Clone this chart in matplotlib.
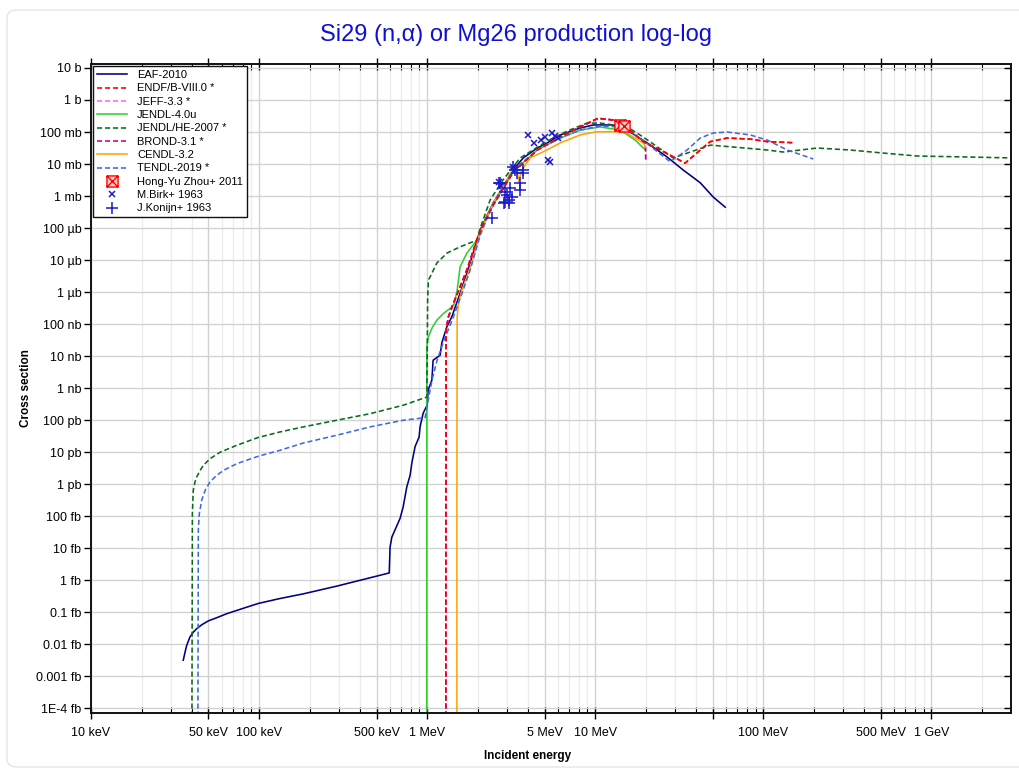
import matplotlib
matplotlib.use("Agg")
import matplotlib.pyplot as plt
from matplotlib.path import Path
from matplotlib.patches import FancyBboxPatch
from matplotlib.ticker import FixedLocator, FixedFormatter, NullLocator

plt.rcParams['font.family'] = ['Liberation Sans', 'DejaVu Sans']

# ---------------- data (E in MeV, cross section in barns) ----------------
eaf_E = [0.0354, 0.0363, 0.0371, 0.0388, 0.0406, 0.0426, 0.0456, 0.0499, 0.056, 0.0643, 0.0737,
         0.099, 0.133, 0.184, 0.29, 0.595, 0.602, 0.617,
         0.691, 0.72, 0.757, 0.792, 0.811, 0.848, 0.896, 0.908, 0.947, 1.0, 1.014, 1.067, 1.086,
         1.195, 1.223, 1.31, 1.403, 1.572, 1.723, 1.878, 2.068, 2.47, 2.83, 3.25, 3.73, 4.52,
         5.18, 6.19, 8.14, 9.73, 12.8, 15.5, 20.4, 26.8, 33.4, 42.2, 50.4, 59.4]
eaf_S = [3.2e-18, 5.8e-18, 9.3e-18, 1.7e-17, 2.4e-17, 3.1e-17, 4.1e-17, 5.4e-17, 6.8e-17, 9.1e-17,
         1.15e-16, 1.9e-16, 2.7e-16, 3.8e-16, 6.6e-16, 1.7e-15,
         1.1e-14, 2.25e-14, 8.7e-14, 1.95e-13, 8.3e-13, 1.9e-12, 4.6e-12, 1.5e-11, 3.0e-11,
         6.2e-11, 1.65e-10, 2.95e-10, 8.7e-10, 1.8e-9, 7.5e-9, 1.07e-8, 2.6e-8, 8.3e-8, 1.7e-7,
         9.3e-7, 3.9e-6, 1.65e-5, 8.7e-5, 6.0e-4, 1.9e-3, 6.5e-3, 0.0155, 0.0316, 0.0455, 0.081,
         0.133, 0.166, 0.166, 0.115, 0.0455, 0.0166, 6.5e-3, 2.6e-3, 9.3e-4, 4.5e-4]

endf_E = [1.292, 1.293, 1.297, 1.339, 1.434, 1.572, 1.723, 1.976, 2.15, 2.47, 3.25, 4.52, 6.19,
          8.14, 10.4, 12.8, 14.7, 16.8, 19.3, 24.4, 34.3, 42.2, 48.4, 61.0, 83.7, 105.6, 150.9]
endf_S = [1e-21, 3.2e-13, 6.5e-8, 1.7e-7, 4.5e-7, 1.47e-6, 4.9e-6, 4.2e-5, 1.25e-4, 5.2e-4,
          5.6e-3, 0.0274, 0.07, 0.144, 0.268, 0.237, 0.166, 0.093, 0.05, 0.0274, 0.0107, 0.0274,
          0.05, 0.065, 0.06, 0.05, 0.0464]

jeff_E = [1.292, 1.293, 1.297, 1.339, 1.434, 1.572, 1.723, 1.976, 2.15, 2.47, 3.25, 4.52, 6.19,
          8.14, 10.4, 12.8, 14.7, 16.8, 19.3, 19.9, 20.0]
jeff_S = [1e-21, 3.2e-13, 6.5e-8, 1.7e-7, 4.5e-7, 1.47e-6, 4.9e-6, 4.2e-5, 1.25e-4, 5.2e-4,
          5.6e-3, 0.0274, 0.07, 0.144, 0.268, 0.237, 0.166, 0.093, 0.05, 0.045, 0.0133]

brond_E = jeff_E
brond_S = jeff_S

jendl4_E = [0.9945, 0.9959, 1.018, 1.067, 1.142, 1.25, 1.37, 1.448, 1.509, 1.572, 1.723, 1.976,
            2.15, 2.47, 3.25, 4.52, 6.19, 8.14, 10.7, 14.1, 17.3, 19.9]
jendl4_S = [1e-21, 1.95e-8, 4.0e-8, 7.4e-8, 1.33e-7, 2.15e-7, 3.1e-7, 4.2e-7, 1.15e-6, 6.2e-6,
            1.65e-5, 4.2e-5, 1.25e-4, 5.2e-4, 5.6e-3, 0.0274, 0.065, 0.115, 0.144, 0.115, 0.056,
            0.0274]

jendlhe_E = [0.0398, 0.0401, 0.0406, 0.0416, 0.0426, 0.0446, 0.0466, 0.0511, 0.0586, 0.0737,
             0.099, 0.133, 0.184, 0.29, 0.458, 0.723, 0.996, 1.007,
             1.018, 1.042, 1.142, 1.31, 1.572, 1.976, 2.07, 2.37, 2.83, 3.58, 5.18, 6.81, 8.96,
             10.7, 15.5, 19.3, 29.1, 48.4, 66.3, 105.6, 131.6, 209.6, 329.6, 517.9, 825.4,
             1638.0, 3035.0]
jendlhe_S = [1e-21, 1.2e-13, 6.5e-13, 1.2e-12, 1.7e-12, 2.7e-12, 3.9e-12, 6.3e-12, 1.0e-11,
             1.65e-11, 2.9e-11, 4.3e-11, 6.2e-11, 1.0e-10, 1.6e-10, 2.95e-10, 5.3e-10, 5.6e-7,
             2.4e-6, 3.0e-6, 8.1e-6, 1.65e-5, 2.6e-5, 4.2e-5, 1e-4, 7.5e-4,
             3.2e-3, 0.0155, 0.052, 0.107, 0.19, 0.19, 0.144, 0.07, 0.0155, 0.039, 0.034, 0.0274,
             0.0237, 0.0316, 0.0274, 0.022, 0.0178, 0.0166, 0.0155]

cendl_E = [1.503, 1.504, 1.509, 1.536, 1.609, 1.803, 2.07, 2.47, 2.91, 3.21, 3.42, 3.50, 3.66,
           4.10, 5.16, 6.19, 8.14, 10.2, 14.1, 15.4, 19.3, 19.9]
cendl_S = [1e-21, 3.2e-13, 1.7e-7, 4.5e-7, 1.15e-6, 5.6e-6, 6.9e-5, 6.0e-4, 2.6e-3, 6.5e-3,
           8.3e-3, 2.8e-3, 6.5e-3, 0.0155, 0.0274, 0.0455, 0.081, 0.102, 0.102, 0.093, 0.0455,
           0.034]

tendl_E = [0.0432, 0.0435, 0.0441, 0.0456, 0.0478, 0.0511, 0.056, 0.0613, 0.0737, 0.099, 0.133,
           0.184, 0.29, 0.458, 0.723, 0.973, 1.014,
           1.07, 1.147, 1.262, 1.409, 1.615, 1.803, 2.07, 2.47, 3.25, 4.52, 6.19, 8.14, 10.7,
           14.1, 18.5, 22.8, 27.9, 35.2, 42.2, 50.4, 61.0, 83.7, 105.6, 139.0, 198.5]
tendl_S = [1e-21, 3.6e-14, 1.2e-13, 3.2e-13, 6.5e-13, 1.2e-12, 1.9e-12, 2.7e-12, 4.4e-12,
           7.5e-12, 1.15e-11, 1.95e-11, 3.4e-11, 6.2e-11, 1.0e-10, 1.2e-10, 4.2e-10,
           1.8e-9, 7.5e-9, 3.2e-8, 1.33e-7, 9.3e-7, 4.9e-6, 6.0e-5, 6.0e-4,
           6.5e-3, 0.0274, 0.065, 0.115, 0.154, 0.144, 0.065, 0.0274, 0.0118, 0.0274, 0.065,
           0.093, 0.1, 0.081, 0.056, 0.0274, 0.0144]

zhou_E = [14.1, 14.8]
zhou_S = [0.165, 0.15]

birk_E = [3.97, 4.35, 4.75, 5.04, 5.52, 5.78, 6.02, 5.27, 5.40, 2.66, 3.26, 2.76]
birk_S = [0.0805, 0.0463, 0.0562, 0.0713, 0.095, 0.075, 0.0636, 0.0133, 0.0118, 2.8e-3,
          8.3e-3, 2.05e-3]

konijn_E = [2.43, 2.66, 2.72, 2.85, 2.91, 2.98, 3.05, 3.05, 3.12, 3.19, 3.26, 3.34, 3.42, 3.58,
            3.58, 3.74, 3.74, 2.91]
konijn_S = [2.0e-4, 2.5e-3, 2.6e-3, 5.9e-4, 1.35e-3, 1.07e-3, 7.5e-4, 5.9e-4, 1.74e-3, 9.5e-4,
            8.3e-3, 6.5e-3, 5.1e-3, 2.5e-3, 1.55e-3, 6.5e-3, 5.1e-3, 6.6e-4]

x_ticks = [0.01, 0.05, 0.1, 0.5, 1, 5, 10, 50, 100, 500, 1000]
x_labels = ['10 keV', '50 keV', '100 keV', '500 keV', '1 MeV', '5 MeV', '10 MeV', '',
            '100 MeV', '500 MeV', '1 GeV']
y_ticks = [10.0 ** k for k in range(1, -20, -1)]
y_labels = ['10 b', '1 b', '100 mb', '10 mb', '1 mb', '100 µb', '10 µb', '1 µb', '100 nb',
            '10 nb', '1 nb', '100 pb', '10 pb', '1 pb', '100 fb', '10 fb', '1 fb', '0.1 fb',
            '0.01 fb', '0.001 fb', '1E-4 fb']

# ---------------- figure ----------------
fig = plt.figure(figsize=(10.2, 7.74), dpi=100)
fig.patches.append(FancyBboxPatch((7 / 1020, 7 / 774), 1.2, 757 / 774,
                                  boxstyle="round,pad=0,rounding_size=0.01",
                                  transform=fig.transFigure, fill=False,
                                  edgecolor='#e6e6e6', linewidth=1.0))
ax = fig.add_axes([91 / 1020, 1 - 713 / 774, (1011 - 91) / 1020, (713 - 64) / 774])
ax.set_xscale('log')
ax.set_yscale('log')
ax.set_xlim(0.01, 2980)
ax.set_ylim(7.2e-20, 13.3)

dash = (0, (3.2, 1.8))
lw = 1.15
series = [
    (eaf_E, eaf_S, 'EAF-2010', '#000080', '-'),
    (endf_E, endf_S, 'ENDF/B-VIII.0 *', '#FF0000', dash),
    (jeff_E, jeff_S, 'JEFF-3.3 *', '#FF66FF', dash),
    (jendl4_E, jendl4_S, 'JENDL-4.0u', '#33CC33', '-'),
    (jendlhe_E, jendlhe_S, 'JENDL/HE-2007 *', '#0B6B1B', dash),
    (brond_E, brond_S, 'BROND-3.1 *', '#C8008C', dash),
    (cendl_E, cendl_S, 'CENDL-3.2', '#FFA500', '-'),
    (tendl_E, tendl_S, 'TENDL-2019 *', '#4169E1', dash),
]
handles = []
for E, S, lab, col, ls in series:
    h, = ax.plot(E, S, color=col, linestyle=ls, linewidth=lw, label=lab)
    handles.append(h)
# ENDF again on top so red dominates where the evaluations coincide
ax.plot(endf_E, endf_S, color='#FF0000', linestyle=dash, linewidth=lw, zorder=2.1)

box_x = Path([(-1, -1), (1, -1), (1, 1), (-1, 1), (-1, -1), (-1, -1), (1, 1), (-1, 1), (1, -1)],
             [Path.MOVETO, Path.LINETO, Path.LINETO, Path.LINETO, Path.CLOSEPOLY,
              Path.MOVETO, Path.LINETO, Path.MOVETO, Path.LINETO])
hz, = ax.plot(zhou_E, zhou_S, linestyle='none', marker=box_x, markersize=8,
              markerfacecolor='#FFD0D0', markeredgecolor='#FF0000', markeredgewidth=1.0,
              label='Hong-Yu Zhou+ 2011', zorder=3)
hb, = ax.plot(birk_E, birk_S, linestyle='none', marker='x', markersize=5,
              markeredgecolor='#1A1AC8', markeredgewidth=1.1, label='M.Birk+ 1963', zorder=3)
hk, = ax.plot(konijn_E, konijn_S, linestyle='none', marker='+', markersize=8,
              markeredgecolor='#1A1AC8', markeredgewidth=1.1, label='J.Konijn+ 1963', zorder=3)
handles += [hz, hb, hk]

# ---------------- axes styling ----------------
ax.xaxis.set_major_locator(FixedLocator(x_ticks))
ax.xaxis.set_major_formatter(FixedFormatter(x_labels))
minor = []
for dec in [0.01, 0.1, 1, 10, 100, 1000]:
    for m in [2, 3, 4, 6, 7, 8, 9]:
        v = dec * m
        if v < 2980:
            minor.append(v)
ax.xaxis.set_minor_locator(FixedLocator(minor))
ax.yaxis.set_major_locator(FixedLocator(y_ticks))
ax.yaxis.set_major_formatter(FixedFormatter(y_labels))
ax.yaxis.set_minor_locator(NullLocator())

ax.grid(True, which='major', color='#d2d2d2', linewidth=1.0, zorder=0)
ax.grid(True, which='minor', axis='x', color='#ececec', linewidth=0.9, zorder=0)
ax.set_axisbelow(True)

ax.tick_params(axis='x', which='major', direction='inout', length=8, width=1.0,
               top=True, labelsize=9, pad=6)
ax.tick_params(axis='x', which='minor', direction='in', length=4, width=0.8, top=True)
ax.tick_params(axis='y', which='major', direction='out', length=5, width=1.0,
               labelsize=9, pad=2)
ax.tick_params(axis='y', which='major', right=True)
for t in ax.yaxis.get_ticklines()[1::2]:
    t.set_marker(0)  # right-side ticks point inward
for sp in ax.spines.values():
    sp.set_linewidth(1.4)
    sp.set_color('#111111')

ax.set_xlabel('Incident energy', fontsize=8.5, fontweight='bold')
ax.set_ylabel('Cross section', fontsize=8.5, fontweight='bold')
ax.yaxis.set_label_coords(-0.064, 0.5)
ax.xaxis.set_label_coords(0.475, -0.057)

fig.text(0.506, 1 - 35 / 774, 'Si29 (n,α) or Mg26 production log-log', ha='center',
         va='center', fontsize=17, color='#1010D0')

leg = ax.legend(handles=handles, loc='upper left', bbox_to_anchor=(0.0, 1.0),
                borderaxespad=0.2, fontsize=8, frameon=True, fancybox=False,
                edgecolor='#111111', framealpha=1.0, handlelength=2.7, handletextpad=0.9,
                labelspacing=0.3, borderpad=0.35, numpoints=1)
leg.get_frame().set_linewidth(1.0)

fig.savefig('out.png', dpi=100)
